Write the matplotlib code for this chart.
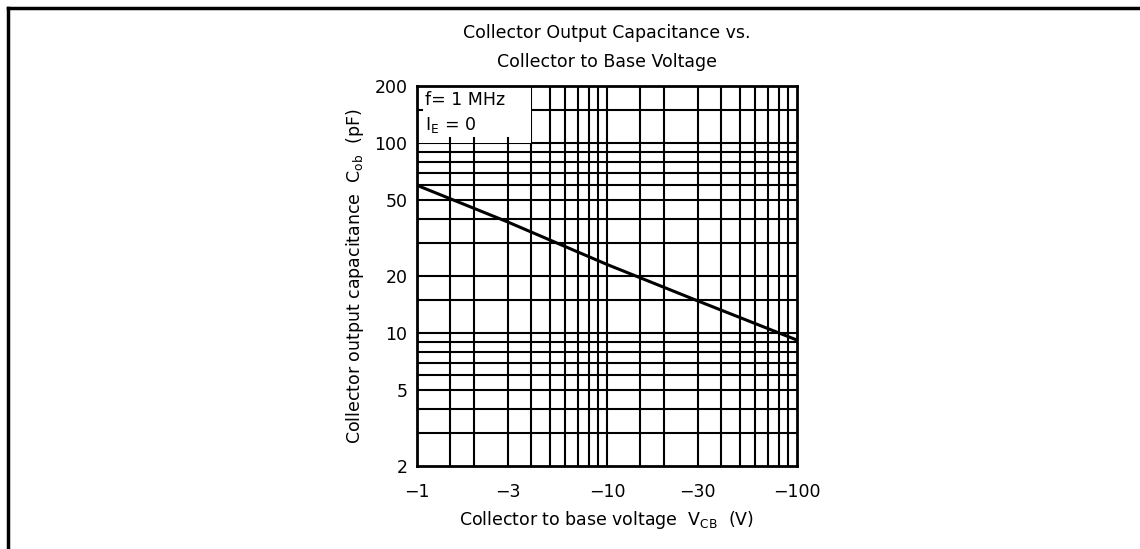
import matplotlib
matplotlib.use("Agg")
import matplotlib.pyplot as plt
from matplotlib.lines import Line2D
from matplotlib.patches import Rectangle

# ============================================================
# Data
# ============================================================
vcb = [1, 3, 10, 30, 100]            # |V_CB| (V)
cob = [60, 38.5, 23, 14.8, 9.2]      # C_ob (pF)

xticks = [1, 3, 10, 30, 100]
xticklabels = ["\u22121", "\u22123", "\u221210", "\u221230", "\u2212100"]
yticks = [2, 5, 10, 20, 50, 100, 200]
yticklabels = ["2", "5", "10", "20", "50", "100", "200"]

xgrid = [1.5, 2, 3, 4, 5, 6, 7, 8, 9, 10, 15, 20, 30, 40, 50, 60, 70, 80, 90]
ygrid = [3, 4, 5, 6, 7, 8, 9, 10, 15, 20, 30, 40, 50, 60, 70, 80, 90, 100, 150]

plt.rcParams["font.family"] = "DejaVu Sans"
FS = 12.5

fig = plt.figure(figsize=(11.4, 5.49), dpi=100)
ax = fig.add_axes([0.3658, 0.1512, 0.3333, 0.6922])

ax.set_xscale("log")
ax.set_yscale("log")
ax.set_xlim(1, 100)
ax.set_ylim(2, 200)

# grid drawn by hand (datasheet style)
for x in xgrid:
    ax.axvline(x, color="black", lw=1.5, zorder=1)
for y in ygrid:
    ax.axhline(y, color="black", lw=1.5, zorder=1)

# white label box in the upper left corner
ax.add_patch(Rectangle((1, 100), 3, 100, facecolor="white", edgecolor="none", zorder=2))
for x in [1.5, 2, 3]:
    ax.plot([x, x], [100, 106], color="black", lw=1.5, zorder=3)
ax.plot([1, 1.06], [150, 150], color="black", lw=1.5, zorder=3)

ax.text(1.1, 188, "f= 1 MHz", fontsize=FS, va="top", ha="left", zorder=4)
ax.text(1.1, 141, r"$\mathregular{I_E}$ = 0", fontsize=FS, va="top", ha="left", zorder=4)

ax.plot(vcb, cob, color="black", lw=2.2, zorder=5)

ax.set_xticks(xticks)
ax.set_xticklabels(xticklabels)
ax.set_yticks(yticks)
ax.set_yticklabels(yticklabels)
ax.minorticks_off()
ax.tick_params(length=0, labelsize=FS, pad=12)
ax.tick_params(axis="y", pad=7)
for s in ax.spines.values():
    s.set_linewidth(2)

ax.set_title("Collector Output Capacitance vs.\nCollector to Base Voltage",
             fontsize=FS, pad=14, linespacing=1.75)
ax.set_xlabel(r"Collector to base voltage  V$_\mathregular{CB}$  (V)", fontsize=FS, labelpad=6)
ax.set_ylabel(r"Collector output capacitance  C$_\mathregular{ob}$  (pF)", fontsize=FS, labelpad=6)

# page frame (top and left edges)
fig.add_artist(Line2D([0.0066, 1.0], [0.9863, 0.9863], color="black", lw=2.5))
fig.add_artist(Line2D([0.0066, 0.0066], [0.0, 0.9863], color="black", lw=2.5))

fig.savefig("out.png", dpi=100)
